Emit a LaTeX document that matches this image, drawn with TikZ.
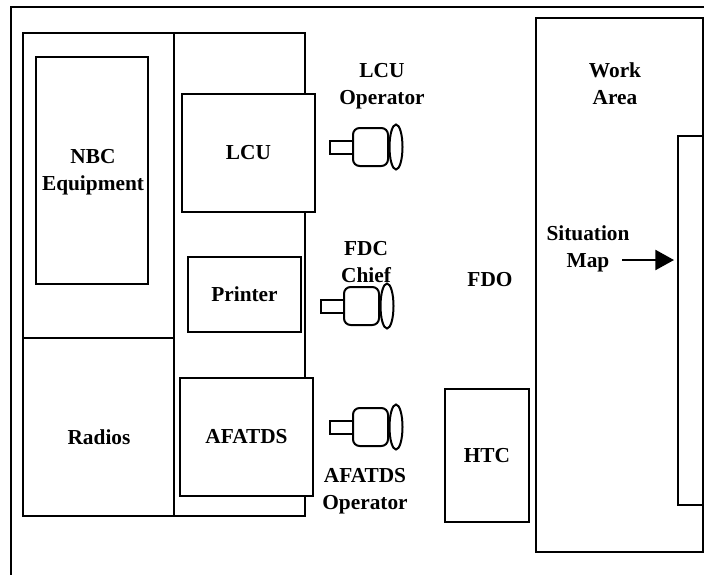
\documentclass[tikz,border=0pt]{standalone}
\usepackage{fontspec}
\setmainfont{Liberation Serif}
\usetikzlibrary{arrows.meta, positioning, shapes.geometric}
\begin{document}
\begin{tikzpicture}[
      x=0.75pt, y=-0.75pt,
      sized/.style 2 args={minimum width=#1*0.75pt, minimum height=#2*0.75pt},
      box/.style={draw, line width=1.5pt, anchor=north west, inner sep=0pt, outer sep=0pt, align=center, font=\fontsize{16}{20}\selectfont\bfseries},
      lbl/.style={align=center, font=\fontsize{16}{20}\selectfont\bfseries, inner sep=0pt},
      head/.style={draw, line width=1.5pt, rounded corners=5pt, anchor=west, outer sep=0pt, sized={35}{38}, inner sep=0pt},
      stem/.style={draw, line width=1.5pt, anchor=east, outer sep=0pt, sized={23}{13}, inner sep=0pt},
      lens/.style={draw, line width=1.5pt, ellipse, sized={13}{45}, inner sep=0pt},
      arr/.style={-{Triangle[length=14pt, width=15pt]}, line width=1.8pt, shorten >=3pt}
    ]
    \useasboundingbox (0,0) rectangle (705,575);
    \draw[line width=1.5pt] (704,7) -- (11,7) -- (11,575);
    % shelter
    \node[box, sized={151}{305}] (nbcbay) at (23,33) {};
    \node[box, sized={151}{178}] (radiobay) at (23,338) {};
    \node[box, sized={131}{483}] (rack) at (174,33) {};
    \node[box, sized={112}{227}] (nbc) at (36,57) {};
    \node[lbl] (nbclbl) at (93,172) {NBC\\Equipment};
    \node[lbl] (radios) at (99,437) {Radios};
    \node[box, sized={133}{118}, fill=white] (lcu) at (182,94) {LCU};
    \node[box, sized={113}{75}, fill=white] (printer) at (188,257) {Printer};
    \node[box, sized={133}{118}, fill=white] (afatds) at (180,378) {AFATDS};
    % crew
    \node[head] (lcuhead) at (353,147) {};
    \node[stem] (lcustem) at (lcuhead.west) {};
    \node[lens] (lcueye) at (396,147) {};
    \node[lbl] (lcuop) at (382,86) {LCU\\Operator};
    \node[head] (fdchead) at (344,306) {};
    \node[stem] (fdcstem) at (fdchead.west) {};
    \node[lens] (fdceye) at (387,306) {};
    \node[lbl] (fdc) at (366,262) {FDC\\Chief};
    \node[head] (afahead) at (353,427) {};
    \node[stem] (afastem) at (afahead.west) {};
    \node[lens] (afaeye) at (396,427) {};
    \node[lbl] (afaop) at (365,491) {AFATDS\\Operator};
    \node[lbl] (fdo) at (490,280) {FDO};
    \node[box, sized={84}{133}] (htc) at (445,389) {HTC};
    % work area
    \node[box, sized={167}{534}] (work) at (536,18) {};
    \node[lbl] (worklbl) at (615,84) {Work\\Area};
    \node[box, sized={25}{369}, fill=white] (map) at (678,136) {};
    \node[lbl] (maplbl) at (588,249) {Situation\\Map};
    \coordinate (maparrow) at (622,260);
    \draw[arr] (maparrow) -- (map.west |- maparrow);
\end{tikzpicture}
\end{document}
